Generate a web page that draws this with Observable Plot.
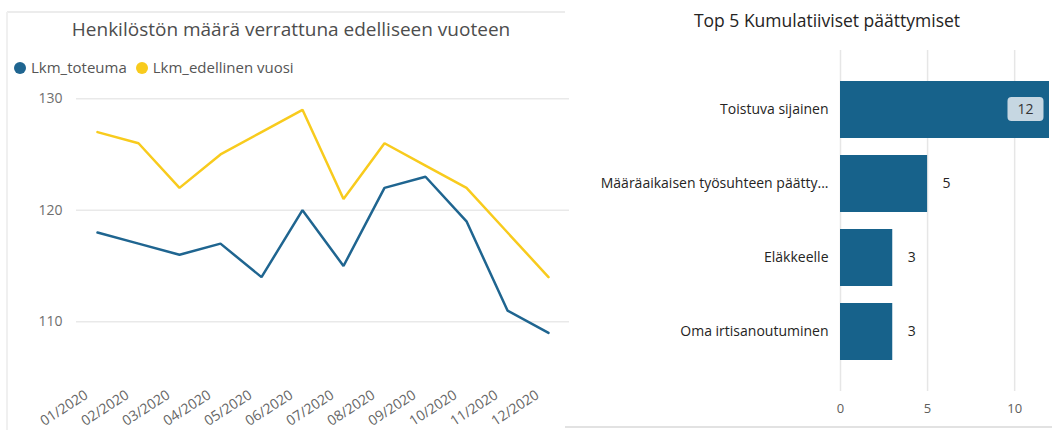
<!DOCTYPE html>
<html>
<head>
<meta charset="utf-8">
<script src="https://cdn.jsdelivr.net/npm/d3@7"></script>
<script src="https://cdn.jsdelivr.net/npm/@observablehq/plot@0.6"></script>
<style>
  html, body { margin: 0; padding: 0; background: #fff; }
  body { font-family: "Open Sans", "Noto Sans", sans-serif; }
  #wrap { position: relative; width: 1052px; height: 430px; overflow: hidden; background: #fff; }
  .abs { position: absolute; }
  svg { background: transparent !important; overflow: visible; }
  #leftTitle { left: 12px; width: 558px; top: 14px; text-align: center; font-size: 19px; color: #4d4d4d; line-height: 30px; }
  #legend { left: 14px; top: 56px; font-size: 15px; color: #555; line-height: 22px; white-space: nowrap; }
  #legend span.sw { display: inline-block; width: 12px; height: 12px; border-radius: 50%; vertical-align: -1px; margin-right: 5px; }
  #legend span.item { margin-right: 9px; }
  #rightTitle { left: 565px; width: 524px; top: 6px; text-align: center; font-size: 17.5px; color: #252423; line-height: 28px; }
</style>
</head>
<body>
<div id="wrap">
  <div class="abs" style="left:7px;top:11px;width:558px;height:2px;background:#ececec"></div>
  <div class="abs" style="left:6px;top:12px;width:2px;height:418px;background:#f0f0f0"></div>
  <div class="abs" style="left:565px;top:426px;width:487px;height:2px;background:#e2e2e2"></div>
  <div id="leftTitle" class="abs">Henkilöstön määrä verrattuna edelliseen vuoteen</div>
  <div id="legend" class="abs"></div>
  <div id="left" class="abs" style="left:0;top:0"></div>
  <div id="rightTitle" class="abs">Top 5 Kumulatiiviset päättymiset</div>
  <div id="right" class="abs" style="left:565px;top:0"></div>
</div>
<script>
// ---- Data: line chart ----
const months = ["01/2020","02/2020","03/2020","04/2020","05/2020","06/2020","07/2020","08/2020","09/2020","10/2020","11/2020","12/2020"];
const toteuma = [118,117,116,117,114,120,115,122,123,119,111,109];
const edellinen = [127,126,122,125,127,129,121,126,124,122,118,114];
const seriesNames = ["Lkm_toteuma","Lkm_edellinen vuosi"];
const seriesColors = ["#1f6590","#f8cb1d"];
const yTicks = [110,120,130];

// ---- Data: bar chart ----
const categories = ["Toistuva sijainen","Määräaikaisen työsuhteen päätty...","Eläkkeelle","Oma irtisanoutuminen"];
const counts = [12,5,3,3];
const xTicks = [0,5,10];
const barColor = "#17628b";

// legend
const legend = document.getElementById("legend");
seriesNames.forEach((n,i) => {
  const s = document.createElement("span");
  s.className = "item";
  s.innerHTML = `<span class="sw" style="background:${seriesColors[i]}"></span>${n}`;
  legend.appendChild(s);
});

const lineData = [];
months.forEach((m,i) => {
  lineData.push({month:m, value:toteuma[i], series:seriesNames[0]});
  lineData.push({month:m, value:edellinen[i], series:seriesNames[1]});
});

const left = Plot.plot({
  width: 569,
  height: 430,
  marginLeft: 76,
  marginRight: 0,
  marginTop: 87,
  marginBottom: 53,
  style: {fontFamily: '"Open Sans", sans-serif', fontSize: "14px", color: "#6e6e6e", background: "transparent"},
  x: {type: "point", domain: months, padding: 0.385, label: null},
  y: {domain: [105,131], label: null},
  color: {domain: seriesNames, range: seriesColors},
  marks: [
    Plot.gridY(yTicks, {stroke: "#e9e9e9", strokeOpacity: 1, strokeWidth: 1.5}),
    Plot.axisY(yTicks, {tickSize: 0, tickPadding: 14, fontSize: 14, fill: "#6e6e6e", label: null}),
    Plot.axisX({tickSize: 0, tickRotate: -33, tickPadding: 16, dx: -11, fontSize: 14, fill: "#666666", label: null}),
    Plot.line(lineData, {x: "month", y: "value", z: "series", stroke: "series", strokeWidth: 2.5, strokeLinejoin: "miter"})
  ]
});
document.getElementById("left").appendChild(left);

const barData = categories.map((c,i) => ({cat:c, n:counts[i]}));
const maxN = d3.max(counts);

const right = Plot.plot({
  width: 487,
  height: 430,
  marginLeft: 275,
  marginRight: 3,
  marginTop: 50,
  marginBottom: 39,
  style: {fontFamily: '"Open Sans", sans-serif', fontSize: "13px", color: "#252423", background: "transparent"},
  x: {domain: [0,12], label: null},
  y: {domain: categories, paddingInner: 0.23, paddingOuter: 0.41, label: null},
  marks: [
    Plot.gridX(xTicks, {stroke: "#e6e6e6", strokeOpacity: 1, strokeWidth: 1.5}),
    Plot.axisX(xTicks, {tickSize: 0, tickPadding: 12, fontSize: 13, fill: "#605e5c", label: null}),
    Plot.axisY({tickSize: 0, tickPadding: 12, fontSize: 14, fill: "#252423", label: null}),
    Plot.barX(barData, {x: "n", y: "cat", fill: barColor}),
    Plot.text(barData.filter(d => d.n !== maxN), {x: "n", y: "cat", text: d => String(d.n), textAnchor: "start", dx: 15, fontSize: 14, fill: "#252423"}),
    Plot.text(barData.filter(d => d.n === maxN), {x: "n", y: "cat", text: d => String(d.n), textAnchor: "end", dx: -16, fontSize: 14, fill: "#333333"})
  ]
});
document.getElementById("right").appendChild(right);

// rounded background box behind the inside label (last text mark)
const textGroups = right.querySelectorAll('g[aria-label="text"]');
const insideG = textGroups[textGroups.length - 1];
if (insideG) {
  insideG.querySelectorAll('text').forEach(t => {
    const b = t.getBBox();
    const r = document.createElementNS("http://www.w3.org/2000/svg", "rect");
    r.setAttribute("x", b.x - 10);
    r.setAttribute("y", b.y + b.height/2 - 12);
    r.setAttribute("width", b.width + 20);
    r.setAttribute("height", 24);
    r.setAttribute("rx", 4);
    r.setAttribute("fill", "#c6d7e2");
    r.setAttribute("stroke", "none");
    if (t.getAttribute("transform")) r.setAttribute("transform", t.getAttribute("transform"));
    t.parentNode.insertBefore(r, t);
  });
}
</script>
</body>
</html>
